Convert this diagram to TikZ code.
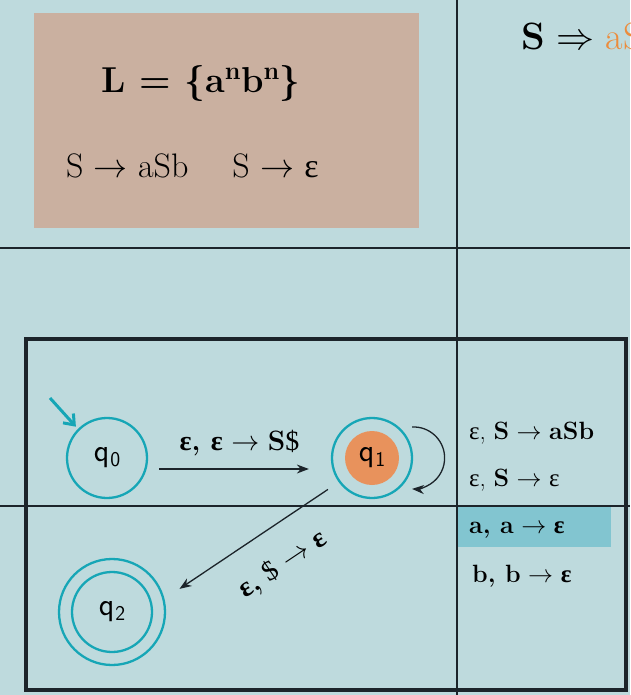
\RequirePackage{fix-cm}
\documentclass[tikz,border=0pt]{standalone}
\usepackage{fontspec}
\usepackage{amsmath}
\usetikzlibrary{positioning, arrows.meta, calc}

\newfontfamily\grkfont{Liberation Serif}

\definecolor{bgcol}{RGB}{190,218,221}
\definecolor{boxcol}{RGB}{202,176,160}
\definecolor{linecol}{RGB}{28,36,42}
\definecolor{statecol}{RGB}{22,166,182}
\definecolor{corecol}{RGB}{232,146,92}
\definecolor{hlcol}{RGB}{130,197,208}
\definecolor{derivcol}{RGB}{236,140,60}

\newcommand{\stlabel}[1]{q\kern1pt\raisebox{-5pt}{\fontsize{21}{21}\selectfont#1}}
\newcommand{\eps}{{\grkfont ε}}
\newcommand{\dol}{{\grkfont\$}}

\begin{document}
\begin{tikzpicture}[
    x=1pt, y=-1pt,
    gridline/.style={draw=linecol, line width=1.6pt},
    frame/.style={draw=linecol, line width=3.5pt},
    state/.style={circle, draw=statecol, line width=2.3pt, minimum size=80pt, inner sep=0pt, font=\sffamily\fontsize{32}{32}\selectfont},
    arr/.style={-{Stealth[length=12pt, width=9pt]}, draw=linecol, line width=1.3pt},
    rule/.style={anchor=base west, inner sep=0pt, font=\fontsize{25}{25}\selectfont},
    lbl/.style={inner sep=0pt, font=\fontsize{28}{28}\selectfont},
    bigtext/.style={anchor=base, inner sep=0pt, font=\fontsize{36}{36}\selectfont},
    midtext/.style={anchor=base west, inner sep=0pt, font=\fontsize{34}{34}\selectfont},
]

% background, grid and frame
\useasboundingbox (0,0) rectangle (630,695);
\fill [bgcol] (0,0) rectangle (630,695);
\clip (0,0) rectangle (630,695);
\draw [gridline] (0,248) -- (630,248);
\draw [gridline] (0,506) -- (630,506);
\draw [gridline] (457,0) -- (457,695);
\draw [frame] (26,339) rectangle (626,690);

% grammar box
\node [fill=boxcol, minimum width=385pt, minimum height=215pt, inner sep=0pt] (grammarbox) at (226.5,120.5) {};
\node [bigtext] (lang) at (201,93) {\textbf{L = \{a\textsuperscript{n}b\textsuperscript{n}\}}};
\node [midtext] (rules) at (66,177) {S $\to$ aSb\hspace{44pt}S $\to$ \eps};

\node [anchor=base west, inner sep=0pt, font=\fontsize{38}{38}\selectfont] (deriv) at (521,50) {\textbf{S} $\Rightarrow$ {\color{derivcol}aS}};

% states
\node [state] (q0) at (107,458) {\stlabel{0}};
\node [state, path picture={\fill [corecol] (path picture bounding box.center) circle (27pt);}] (q1) at (372,458) {\stlabel{1}};
\node [state, minimum size=106pt, path picture={\draw [statecol, line width=2.3pt] (path picture bounding box.center) circle (40pt);}] (q2) at (112,612) {\stlabel{2}};

\coordinate (start) at (50,398);

% transitions
\draw [-{Straight Barb[length=9pt, width=14pt]}, statecol, line width=3pt, shorten >=3pt] (start) -- (q0.135);
\draw [arr, shorten <=11pt, shorten >=22pt] ([yshift=-11pt]q0.east) -- node [lbl, above=12pt] (lblpush) {\textbf{\eps, \eps} $\to$ \textbf{S}\dol} ([yshift=-11pt]q1.west);
\draw [arr] ($(q1.center)+(40,-31)$) arc [start angle=-93, end angle=93, radius=31];
\draw [arr, shorten <=13pt, shorten >=18pt] (q1.216) -- node [lbl, sloped, below=24pt, pos=0.44] (lblpop) {\textbf{\eps,} \dol{} $\to$ \textbf{\eps}} (q2.14);

% stack rules
\node [rule] (r1) at (469,439) {\eps, \textbf{S} $\to$ \textbf{aSb}};
\node [rule] (r2) at (469,486) {\eps, \textbf{S} $\to$ \eps};
\node [fill=hlcol, minimum width=153pt, minimum height=40pt, inner sep=0pt] (hlbox) at (534.5,527) {};
\node [rule] (r3) at (469,533) {\textbf{a, a} $\to$ \textbf{\eps}};
\node [rule] (r4) at (472,582) {\textbf{b, b} $\to$ \textbf{\eps}};

\end{tikzpicture}
\end{document}
